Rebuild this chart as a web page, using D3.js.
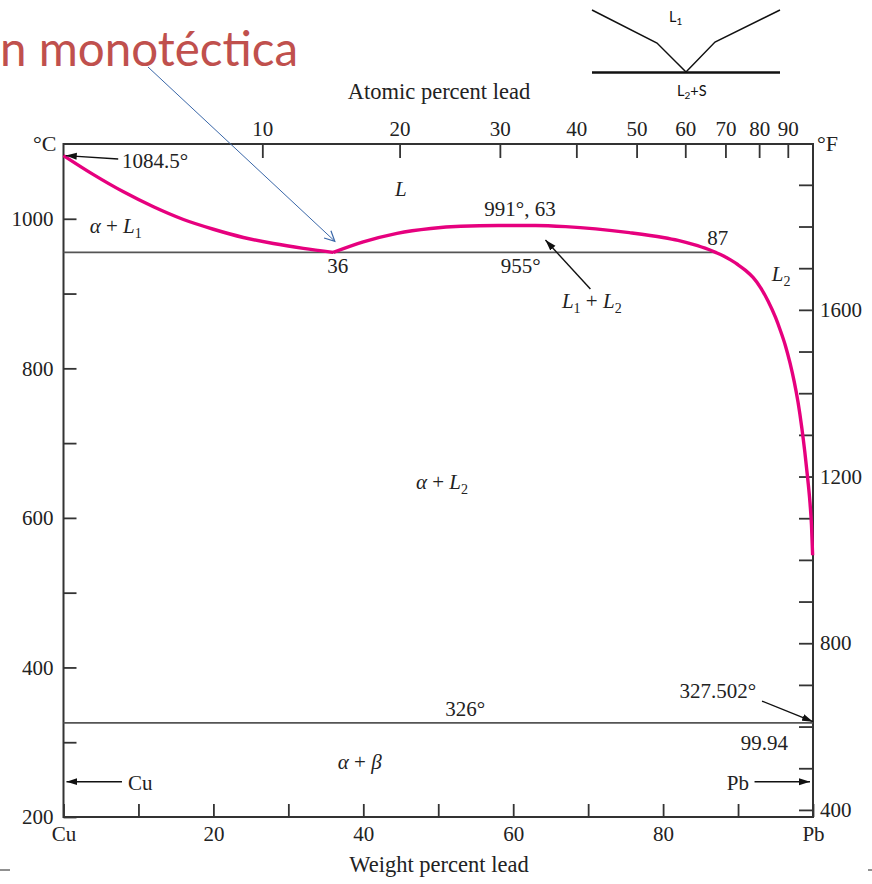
<!DOCTYPE html>
<meta charset="utf-8">
<title>Cu-Pb phase diagram</title>
<style>
body { margin: 0; background: #fff; }
svg { display: block; background: #fff; }
text { font-family: "Liberation Serif", "Times New Roman", serif; fill: #222; }
.axis path.domain { display: none; }
.axis line { stroke: #333; stroke-width: 1.8; }
.axis text { font-family: "Liberation Serif", serif; font-size: 21px; fill: #222; }
.phase { font-size: 21px; }
.inset text { font-family: "Lato", "Open Sans", sans-serif; fill: #111; font-size: 14.5px; }
</style>
<svg width="872" height="884"></svg>
<script src="https://cdn.jsdelivr.net/npm/d3@7"></script>
<script>
  // liquidus of Cu side (weight % Pb, °C)
  var liquidusL1 = [[0,1084.5],[4,1059],[8,1036],[12,1016],[16,999],[20,986],[24,975],[28,967],[32,960.5],[36,955]]
  // miscibility dome + L2 liquidus down to Pb
  var liquidusL2 = [[36,955],[40,969],[44.5,980.5],[49,987],[53,990],[58,991],[63,991],[67,989.5],[71,986.5],[75.5,981.5],[80,975],
    [82,971],[84,965.8],[86,959.2],[87,955],[88,950.5],[89,945],[90,938.5],[91,931],[92,921.5],[93,908],[94,890],[95,868],
    [95.6,852],[96.3,831],[96.94,807],[97.5,782],[98,755],[98.5,721],[98.9,689],[99.3,652],[99.6,620],[99.8,590],[99.95,550]]
  // invariant lines [from wt%, to wt%, °C]
  var isotherms = [[0,87,955],[0,100,326]]

  var tempTicksC = [200,300,400,500,600,700,800,900,1000]
  var tempLabelsC = [200,400,600,800,1000]
  var tempTicksF = [400,500,600,700,800,900,1000,1100,1200,1300,1400,1500,1600,1700,1800,1900]
  var tempLabelsF = [400,800,1200,1600]
  var weightTicks = [0,10,20,30,40,50,60,70,80,90,100]
  var atomicTicks = [10,20,30,40,50,60,70,80,90]

  var svg = d3.select("svg")
  var wScale = d3.scaleLinear().domain([0,100]).range([63.5,813])
  var tScale = d3.scaleLinear().domain([200,1100]).range([817,144])
  var fScale = d3.scaleLinear().domain([383,1998]).range([817,144])

  function atomicToWeight(a) {
    return 100 * a * 207.2 / (a * 207.2 + (100 - a) * 63.546)
  }

  var defs = svg.append("defs")
  defs.append("marker").attr("id","ah").attr("markerUnits","userSpaceOnUse")
    .attr("markerWidth",12).attr("markerHeight",8).attr("refX",11).attr("refY",4).attr("orient","auto")
    .append("path").attr("d","M0,0.5 L11,4 L0,7.5 Z").attr("fill","#111")
  defs.append("marker").attr("id","ahBlue").attr("markerUnits","userSpaceOnUse")
    .attr("markerWidth",14).attr("markerHeight",12).attr("refX",11).attr("refY",6).attr("orient","auto")
    .append("path").attr("d","M1,1 L11,6 L1,11").attr("fill","none").attr("stroke","#3a67a8").attr("stroke-width",1.2)

  // title fragment
  svg.append("text").attr("x",0).attr("y",66)
    .attr("textLength",298).attr("lengthAdjust","spacingAndGlyphs")
    .style("font-family","Lato, 'Open Sans', sans-serif").style("font-size","48px").style("fill","#c0504d")
    .text("n monotéctica")

  // inset sketch
  var inset = svg.append("g").attr("class","inset")
  inset.append("path").attr("d","M592,10 L657,43 L686,72 L715,42 L780,10").attr("fill","none").attr("stroke","#111").attr("stroke-width",1.5)
  inset.append("line").attr("x1",592).attr("x2",780).attr("y1",72.5).attr("y2",72.5).attr("stroke","#111").attr("stroke-width",2.4)
  var t1 = inset.append("text").attr("x",669).attr("y",22)
  t1.append("tspan").text("L")
  t1.append("tspan").attr("dy",3).style("font-size","10px").text("1")
  var t2 = inset.append("text").attr("x",677).attr("y",96)
  t2.append("tspan").text("L")
  t2.append("tspan").attr("dy",3).style("font-size","10px").text("2")
  t2.append("tspan").attr("dy",-3).text("+S")

  // axes
  svg.append("g").attr("class","axis").attr("transform","translate(63.5,0)")
    .call(d3.axisLeft(tScale).tickValues(tempTicksC).tickSize(-13).tickPadding(10)
      .tickFormat(function(d) { return tempLabelsC.indexOf(d) >= 0 ? d : "" }))
  svg.append("g").attr("class","axis").attr("transform","translate(813,0)")
    .call(d3.axisRight(fScale).tickValues(tempTicksF).tickSize(-14).tickPadding(7)
      .tickFormat(function(d) { return tempLabelsF.indexOf(d) >= 0 ? d : "" }))
  svg.append("g").attr("class","axis").attr("transform","translate(0,817)")
    .call(d3.axisBottom(wScale).tickValues(weightTicks).tickSize(-13).tickPadding(9)
      .tickFormat(function(d) { return d == 0 ? "Cu" : d == 100 ? "Pb" : (d % 20 == 0 ? d : "") }))
  var topAxis = svg.append("g").attr("class","axis")
  var tt = topAxis.selectAll("g").data(atomicTicks).enter().append("g")
    .attr("transform", function(d) { return "translate(" + wScale(atomicToWeight(d)) + ",144)" })
  tt.append("line").attr("y2",14)
  tt.append("text").attr("y",-8).attr("text-anchor","middle").text(function(d) { return d })

  // frame
  svg.append("rect").attr("x",wScale(0)).attr("y",tScale(1100))
    .attr("width",wScale(100)-wScale(0)).attr("height",tScale(200)-tScale(1100))
    .attr("fill","none").attr("stroke","#333").attr("stroke-width",2)

  svg.append("text").attr("x",33).attr("y",151).style("font-size","22px").text("°C")
  svg.append("text").attr("x",817).attr("y",151).style("font-size","22px").text("°F")
  svg.append("text").attr("x",439).attr("y",99).attr("text-anchor","middle").style("font-size","22.5px").text("Atomic percent lead")
  svg.append("text").attr("x",439).attr("y",872).attr("text-anchor","middle").style("font-size","22.5px").text("Weight percent lead")

  // isotherms
  svg.append("g").selectAll("line").data(isotherms).enter().append("line")
    .attr("x1", function(d) { return wScale(d[0]) }).attr("x2", function(d) { return wScale(d[1]) })
    .attr("y1", function(d) { return tScale(d[2]) }).attr("y2", function(d) { return tScale(d[2]) })
    .attr("stroke","#555").attr("stroke-width",1.8)

  // liquidus curves
  var line = d3.line().x(function(d) { return wScale(d[0]) }).y(function(d) { return tScale(d[1]) })
    .curve(d3.curveMonotoneX)
  svg.append("g").selectAll("path").data([liquidusL1, liquidusL2]).enter().append("path")
    .attr("d", line).attr("fill","none").attr("stroke","#e6007e").attr("stroke-width",3.4)
    .attr("stroke-linejoin","round")

  // annotation arrows (wt%, °C)
  var arrows = [
    [[7.3,1080],[0.3,1084.5]],
    [[70.3,906],[64.3,971.6]],
    [[93.2,355],[100,327.5]],
    [[7.8,247.2],[0.4,247.2]],
    [[92.2,247.2],[99.6,247.2]]
  ]
  svg.append("g").selectAll("line").data(arrows).enter().append("line")
    .attr("x1", function(d) { return wScale(d[0][0]) }).attr("y1", function(d) { return tScale(d[0][1]) })
    .attr("x2", function(d) { return wScale(d[1][0]) }).attr("y2", function(d) { return tScale(d[1][1]) })
    .attr("stroke","#111").attr("stroke-width",1.4).attr("marker-end","url(#ah)")

  svg.append("line").attr("x1",148).attr("y1",67)
    .attr("x2",wScale(36.2)).attr("y2",tScale(970))
    .attr("stroke","#3a67a8").attr("stroke-width",1).attr("marker-end","url(#ahBlue)")

  // labels: parts [text, style] where style i = italic, s = subscript
  var labels = [
    {w:3.5, t:981, a:"start", parts:[["α","i"],[" + ",""],["L","i"],["1","s"]]},
    {w:45, t:1030, a:"middle", parts:[["L","i"]]},
    {w:60.9, t:1004, a:"middle", parts:[["991°, 63",""]]},
    {w:36.6, t:927.5, a:"middle", parts:[["36",""]]},
    {w:61, t:927.5, a:"middle", parts:[["955°",""]]},
    {w:87.3, t:965, a:"middle", parts:[["87",""]]},
    {w:94.5, t:917, a:"start", parts:[["L","i"],["2","s"]]},
    {w:66.5, t:880.6, a:"start", parts:[["L","i"],["1","s"],[" + ",""],["L","i"],["2","s"]]},
    {w:50.5, t:638.6, a:"middle", parts:[["α","i"],[" + ",""],["L","i"],["2","s"]]},
    {w:53.6, t:335, a:"middle", parts:[["326°",""]]},
    {w:36.6, t:264, a:"start", parts:[["α","i"],[" + ",""],["β","i"]]},
    {w:93.5, t:289.6, a:"middle", parts:[["99.94",""]]},
    {w:92.4, t:359, a:"end", parts:[["327.502°",""]]},
    {w:7.8, t:1068, a:"start", parts:[["1084.5°",""]]},
    {w:8.6, t:236, a:"start", parts:[["Cu",""]]},
    {w:88.5, t:236, a:"start", parts:[["Pb",""]]}
  ]
  labels.forEach(function(l) {
    var txt = svg.append("text").attr("class","phase")
      .attr("x", wScale(l.w)).attr("y", tScale(l.t)).attr("text-anchor", l.a)
    var down = false
    l.parts.forEach(function(p) {
      var ts = txt.append("tspan").text(p[0])
      if (p[1] == "i") ts.style("font-style","italic")
      if (p[1] == "s") { ts.attr("dy",5).style("font-size","14px"); down = true }
      else if (down) { ts.attr("dy",-5); down = false }
    })
  })

  // small slide marks at the bottom corners
  svg.append("line").attr("x1",0).attr("x2",10).attr("y1",870).attr("y2",870).attr("stroke","#222").attr("stroke-width",1)
  svg.append("line").attr("x1",868).attr("x2",872).attr("y1",870).attr("y2",870).attr("stroke","#222").attr("stroke-width",1)
</script>
